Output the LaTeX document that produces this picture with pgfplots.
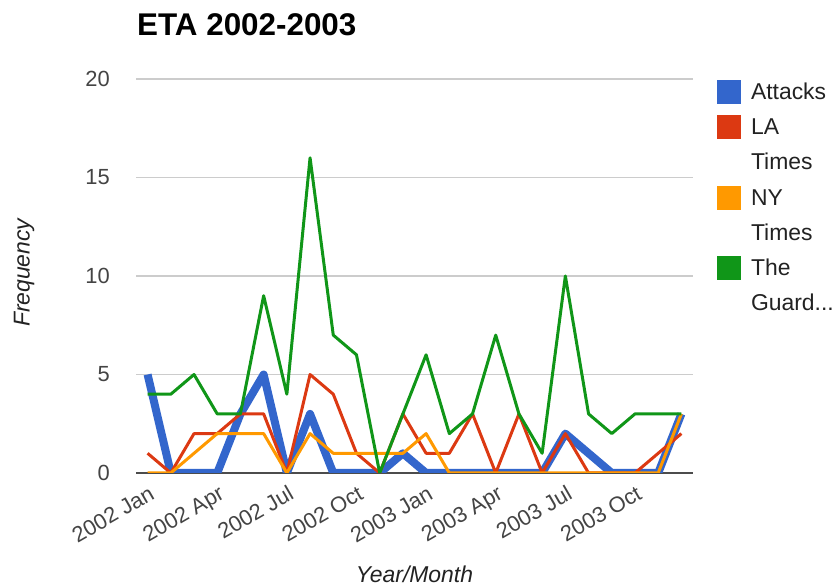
\documentclass[border=0pt]{standalone}
\usepackage{pgfplots}
\pgfplotsset{compat=1.18}
\usepackage{fontspec}
\setmainfont{Liberation Sans}
\definecolor{cA}{HTML}{3366CC}
\definecolor{cB}{HTML}{DC3912}
\definecolor{cC}{HTML}{FF9900}
\definecolor{cD}{HTML}{109618}
\definecolor{ticktext}{HTML}{444444}
\definecolor{labeltext}{HTML}{222222}
\begin{document}
\begin{tikzpicture}
\path[use as bounding box] (0,0) rectangle (840bp,588bp);
\begin{axis}[
  at={(136bp,115bp)}, anchor=south west, scale only axis,
  width=557bp, height=394bp,
  xmin=-0.5, xmax=23.5, ymin=0, ymax=20,
  axis line style={draw=none},
  major tick length=0pt,
  ytick={5,10,15,20},
  extra y ticks={0},
  extra y tick style={grid style={draw=black!70, line width=2bp}},
  ymajorgrids,
  grid style={draw=black!20, line width=1.3bp},
  xtick={0,3,...,21},
  xticklabels={2002 Jan,2002 Apr,2002 Jul,2002 Oct,2003 Jan,2003 Apr,2003 Jul,2003 Oct},
  /pgf/number format/assume math mode=true,
  tick label style={font=\fontsize{22}{26}\selectfont, text=ticktext},
  yticklabel style={inner sep=0pt, anchor=east, xshift=-26bp},
  xticklabel style={inner sep=0pt, xshift=8.4bp, yshift=-25bp, rotate=30, anchor=base east},
  title={ETA 2002-2003},
  title style={at={(axis description cs:0,1)}, anchor=base west, inner sep=0pt, xshift=1bp, yshift=38bp, font=\fontsize{31.5}{36}\selectfont\bfseries, text=black},
  xlabel={Year/Month},
  xlabel style={at={(axis description cs:0.5,-0.256)}, anchor=center, inner sep=0pt, font=\fontsize{23}{26}\selectfont\itshape, text=labeltext},
  ylabel={Frequency},
  ylabel style={at={(axis description cs:-0.201,0.508)}, anchor=center, inner sep=0pt, font=\fontsize{23}{26}\selectfont\itshape, text=labeltext},
  legend cell align=left,
  legend image code/.code={\fill[#1, draw=none] (0bp,-9.5bp) rectangle (24bp,14.5bp);},
  legend style={at={(axis description cs:1.0431,0.9985)}, anchor=north west, draw=none, fill=none,
    inner sep=0pt, outer sep=0pt, row sep=5.2bp, font=\fontsize{23}{26}\selectfont, text=labeltext,
    nodes={inner sep=0pt, text height=20bp, text depth=10bp},
    /tikz/every odd column/.append style={column sep=10bp}},
]
\addplot[cA, line width=8bp, line join=round] coordinates {
 (0,5) (1,0) (2,0) (3,0) (4,3) (5,5) (6,0) (7,3) (8,0) (9,0) (10,0) (11,1)
 (12,0) (13,0) (14,0) (15,0) (16,0) (17,0) (18,2) (19,1) (20,0) (21,0) (22,0) (23,3)};
\addlegendentry{Attacks}
\addplot[cB, line width=3bp, line join=round] coordinates {
 (0,1) (1,0) (2,2) (3,2) (4,3) (5,3) (6,0) (7,5) (8,4) (9,1) (10,0) (11,3)
 (12,1) (13,1) (14,3) (15,0) (16,3) (17,0) (18,2) (19,0) (20,0) (21,0) (22,1) (23,2)};
\addlegendentry{LA}
\addlegendimage{empty legend}
\addlegendentry{Times}
\addplot[cC, line width=3bp, line join=round] coordinates {
 (0,0) (1,0) (2,1) (3,2) (4,2) (5,2) (6,0) (7,2) (8,1) (9,1) (10,1) (11,1)
 (12,2) (13,0) (14,0) (15,0) (16,0) (17,0) (18,0) (19,0) (20,0) (21,0) (22,0) (23,3)};
\addlegendentry{NY}
\addlegendimage{empty legend}
\addlegendentry{Times}
\addplot[cD, line width=3bp, line join=round] coordinates {
 (0,4) (1,4) (2,5) (3,3) (4,3) (5,9) (6,4) (7,16) (8,7) (9,6) (10,0) (11,3)
 (12,6) (13,2) (14,3) (15,7) (16,3) (17,1) (18,10) (19,3) (20,2) (21,3) (22,3) (23,3)};
\addlegendentry{The}
\addlegendimage{empty legend}
\addlegendentry{Guard...}
\end{axis}
\end{tikzpicture}
\end{document}
